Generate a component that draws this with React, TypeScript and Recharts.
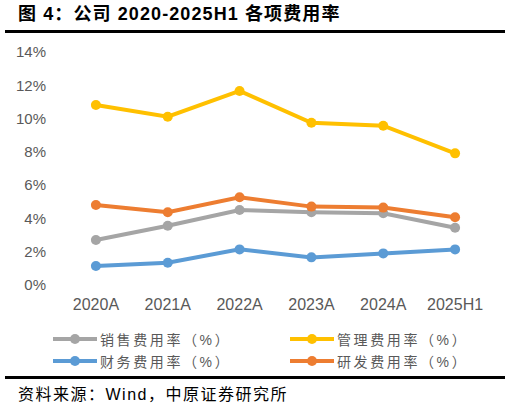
import React from "react";
import { LineChart, Line, XAxis, YAxis } from "recharts";

const years = ["2020A", "2021A", "2022A", "2023A", "2024A", "2025H1"];
const salesRate = [2.7, 3.56, 4.51, 4.37, 4.31, 3.44];
const adminRate = [10.82, 10.11, 11.66, 9.75, 9.57, 7.91];
const financeRate = [1.14, 1.34, 2.14, 1.66, 1.9, 2.14];
const rndRate = [4.81, 4.37, 5.27, 4.71, 4.65, 4.07];
const yTicks = [0, 2, 4, 6, 8, 10, 12, 14];

const series = [
  { key: "sales", name: "销售费用率（%）", color: "#A5A5A5", values: salesRate },
  { key: "admin", name: "管理费用率（%）", color: "#FFC000", values: adminRate },
  { key: "finance", name: "财务费用率（%）", color: "#5B9BD5", values: financeRate },
  { key: "rnd", name: "研发费用率（%）", color: "#ED7D31", values: rndRate },
];

const data = years.map((year, i) => {
  const row: Record<string, string | number> = { year };
  series.forEach((s) => {
    row[s.key] = s.values[i];
  });
  return row;
});

// boundaries between categories, like the excel axis ticks
const edgeTicks = [...years.map((_, i) => i), years.length];

const cjk = '"Liberation Sans", Arial, "Noto Sans CJK SC", sans-serif';

function LegendItem({ name, color }: { name: string; color: string }) {
  return (
    <div style={{ display: "flex", alignItems: "center" }}>
      <svg width={44} height={12} style={{ marginRight: 3 }}>
        <line x1={0} y1={6} x2={44} y2={6} stroke={color} strokeWidth={4} />
        <circle cx={22} cy={6} r={5} fill={color} />
      </svg>
      <span style={{ fontSize: 14, letterSpacing: 2.6, color: "#595959" }}>{name}</span>
    </div>
  );
}

export default function App() {
  return (
    <div
      style={{
        position: "absolute",
        left: 0,
        top: 0,
        width: 510,
        height: 409,
        background: "#fff",
        fontFamily: cjk,
        overflow: "hidden",
      }}
    >
      <div
        style={{
          position: "absolute",
          left: 18,
          top: 3,
          fontSize: 18,
          fontWeight: "bold",
          letterSpacing: 1.1,
          color: "#000",
          lineHeight: "22px",
        }}
      >
        图 4：公司 2020-2025H1 各项费用率
      </div>
      <div style={{ position: "absolute", left: 5, top: 30, width: 500, height: 3, background: "#000" }} />

      <div style={{ position: "absolute", left: 0, top: 0 }}>
        <LineChart width={510} height={330} data={data} margin={{ top: 52, right: 19, left: 0, bottom: 15 }}>
          <XAxis
            xAxisId="edge"
            type="number"
            domain={[0, years.length]}
            ticks={edgeTicks}
            allowDataOverflow
            height={0}
            tickSize={5}
            tickFormatter={() => ""}
            axisLine={{ stroke: "#D9D9D9" }}
            tickLine={{ stroke: "#D9D9D9" }}
          />
          <XAxis
            xAxisId="cat"
            dataKey="year"
            scale="band"
            height={30}
            axisLine={false}
            tickLine={false}
            tickSize={0}
            tickMargin={14}
            interval={0}
            tick={{ fill: "#595959", fontSize: 16, fontFamily: '"Liberation Sans", Arial, sans-serif' }}
          />
          <YAxis
            domain={[0, 14]}
            ticks={yTicks}
            width={60}
            axisLine={false}
            tickLine={false}
            tickSize={0}
            tickMargin={14}
            tickFormatter={(v) => `${v}%`}
            tick={{ fill: "#595959", fontSize: 15, fontFamily: '"Liberation Sans", Arial, sans-serif' }}
          />
          {series.map((s) => (
            <Line
              key={s.key}
              xAxisId="cat"
              dataKey={s.key}
              name={s.name}
              stroke={s.color}
              strokeWidth={4}
              dot={{ r: 5, fill: s.color, stroke: s.color, strokeWidth: 0 }}
              activeDot={false}
              isAnimationActive={false}
            />
          ))}
        </LineChart>
      </div>

      <div style={{ position: "absolute", left: 53, top: 329 }}>
        <LegendItem name={series[0].name} color={series[0].color} />
      </div>
      <div style={{ position: "absolute", left: 290, top: 329 }}>
        <LegendItem name={series[1].name} color={series[1].color} />
      </div>
      <div style={{ position: "absolute", left: 53, top: 351 }}>
        <LegendItem name={series[2].name} color={series[2].color} />
      </div>
      <div style={{ position: "absolute", left: 290, top: 351 }}>
        <LegendItem name={series[3].name} color={series[3].color} />
      </div>

      <div style={{ position: "absolute", left: 5, top: 376, width: 500, height: 3, background: "#000" }} />
      <div
        style={{
          position: "absolute",
          left: 18,
          top: 384,
          fontSize: 16,
          letterSpacing: 1.5,
          color: "#000",
          lineHeight: "22px",
        }}
      >
        资料来源：Wind，中原证券研究所
      </div>
    </div>
  );
}
